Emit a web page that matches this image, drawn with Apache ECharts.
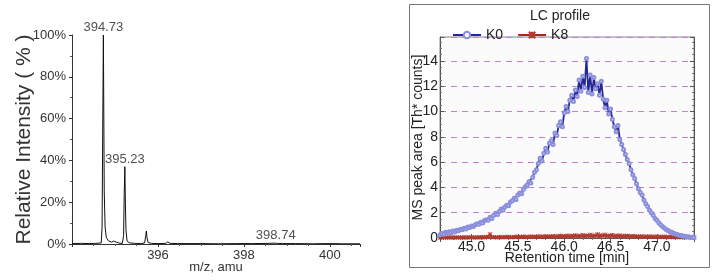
<!DOCTYPE html>
<html>
<head>
<meta charset="utf-8">
<script src="https://cdn.jsdelivr.net/npm/echarts@6.0.0/dist/echarts.min.js"></script>
<style>
  html, body { margin: 0; padding: 0; background: #fff; }
  #chart { width: 717px; height: 280px; }
</style>
</head>
<body>
<div id="chart"></div>
<script>
// mass spectrum (left panel)
const spectrumMz = [394.00, 394.20, 394.40, 394.55, 394.68, 394.70, 394.715, 394.73, 394.74, 394.75,
  394.77, 394.80, 394.85, 394.92, 394.97, 395.00, 395.04, 395.10, 395.17, 395.20,
  395.215, 395.23, 395.24, 395.255, 395.28, 395.33, 395.45, 395.60, 395.69, 395.715,
  395.73, 395.745, 395.77, 395.85, 396.00, 396.18, 396.23, 396.28, 396.45, 396.70,
  397.00, 397.40, 397.80, 398.20, 398.60, 398.70, 398.74, 398.78, 398.90, 399.20,
  399.60, 400.00, 400.30, 400.70]
const spectrumInt = [0.2, 0.3, 0.2, 0.3, 0.5, 8, 55, 100, 62, 25,
  8, 3, 1.5, 0.9, 1.4, 1.6, 0.8, 0.4, 0.3, 4,
  24, 37, 22, 7, 1.5, 0.6, 0.3, 0.2, 0.5, 4,
  6.2, 3, 0.7, 0.3, 0.2, 0.3, 1.0, 0.3, 0.2, 0.2,
  0.2, 0.1, 0.2, 0.2, 0.3, 0.4, 0.6, 0.3, 0.2, 0.2,
  0.1, 0.2, 0.1, 0.1]
const peakMz = [394.73, 395.23, 398.74]
const peakInt = [100, 37, 0.6]

// LC profile (right panel)
const retentionTime = [44.66, 44.68, 44.70, 44.72, 44.74, 44.76, 44.78, 44.80, 44.82, 44.84,
  44.86, 44.88, 44.90, 44.92, 44.94, 44.96, 44.98, 45.00, 45.02, 45.04,
  45.06, 45.08, 45.10, 45.12, 45.14, 45.16, 45.18, 45.20, 45.22, 45.24,
  45.26, 45.28, 45.30, 45.32, 45.34, 45.36, 45.38, 45.40, 45.42, 45.44,
  45.46, 45.48, 45.50, 45.52, 45.54, 45.56, 45.58, 45.60, 45.62, 45.64,
  45.66, 45.68, 45.70, 45.72, 45.74, 45.76, 45.78, 45.80, 45.82, 45.84,
  45.86, 45.88, 45.90, 45.92, 45.94, 45.96, 45.98, 46.00, 46.02, 46.04,
  46.06, 46.08, 46.10, 46.12, 46.14, 46.16, 46.18, 46.20, 46.22, 46.24,
  46.26, 46.28, 46.30, 46.32, 46.34, 46.36, 46.38, 46.40, 46.42, 46.44,
  46.46, 46.48, 46.50, 46.52, 46.54, 46.56, 46.58, 46.60, 46.62, 46.64,
  46.66, 46.68, 46.70, 46.72, 46.74, 46.76, 46.78, 46.80, 46.82, 46.84,
  46.86, 46.88, 46.90, 46.92, 46.94, 46.96, 46.98, 47.00, 47.02, 47.04,
  47.06, 47.08, 47.10, 47.12, 47.14, 47.16, 47.18, 47.20, 47.22, 47.24,
  47.26, 47.28, 47.30, 47.32, 47.34, 47.36, 47.38, 47.40]
const k0 = [0.25, 0.35, 0.30, 0.45, 0.40, 0.50, 0.42, 0.55, 0.48, 0.62,
  0.58, 0.70, 0.66, 0.78, 0.72, 0.88, 0.84, 0.95, 0.90, 1.05,
  1.12, 1.08, 1.25, 1.18, 1.38, 1.45, 1.40, 1.65, 1.55, 1.80,
  1.95, 1.85, 2.10, 2.30, 2.20, 2.45, 2.60, 2.55, 2.85, 2.95,
  3.15, 3.05, 3.40, 3.55, 3.50, 3.85, 4.05, 4.20, 4.45, 4.35,
  4.80, 5.20, 5.40, 5.90, 6.30, 6.10, 6.70, 7.10, 6.80, 7.50,
  7.70, 7.40, 8.30, 8.10, 8.90, 9.20, 8.80, 9.90, 10.40, 10.00,
  10.90, 11.30, 10.80, 11.70, 11.20, 12.50, 11.60, 12.80, 11.90, 14.20,
  11.50, 12.90, 11.40, 12.70, 11.80, 12.20, 11.30, 12.40, 11.00, 10.30,
  10.90, 9.80, 10.20, 9.40, 8.80, 8.40, 8.90, 7.80, 7.40, 7.00,
  6.60, 6.20, 5.90, 5.40, 5.00, 4.70, 4.30, 3.90, 3.60, 3.40,
  3.00, 2.70, 2.50, 2.20, 2.00, 1.80, 1.55, 1.40, 1.20, 1.05,
  0.90, 0.80, 0.68, 0.60, 0.50, 0.45, 0.38, 0.32, 0.28, 0.22,
  0.20, 0.15, 0.14, 0.10, 0.09, 0.06, 0.05, 0.04]
const k8 = [0.02, 0.05, 0.03, 0.04, 0.02, 0.06, 0.03, 0.05, 0.04, 0.03,
  0.05, 0.02, 0.04, 0.06, 0.03, 0.05, 0.04, 0.07, 0.03, 0.05,
  0.04, 0.06, 0.05, 0.08, 0.04, 0.10, 0.06, 0.30, 0.08, 0.05,
  0.07, 0.04, 0.09, 0.06, 0.05, 0.08, 0.06, 0.10, 0.05, 0.07,
  0.09, 0.06, 0.11, 0.07, 0.08, 0.12, 0.06, 0.10, 0.08, 0.13,
  0.07, 0.11, 0.09, 0.14, 0.08, 0.12, 0.10, 0.15, 0.09, 0.13,
  0.11, 0.16, 0.10, 0.14, 0.12, 0.18, 0.11, 0.15, 0.13, 0.20,
  0.12, 0.17, 0.14, 0.22, 0.13, 0.19, 0.15, 0.24, 0.14, 0.20,
  0.16, 0.26, 0.15, 0.21, 0.17, 0.30, 0.14, 0.22, 0.18, 0.27,
  0.15, 0.20, 0.16, 0.24, 0.13, 0.19, 0.15, 0.21, 0.12, 0.17,
  0.14, 0.18, 0.11, 0.15, 0.12, 0.16, 0.10, 0.13, 0.11, 0.14,
  0.09, 0.12, 0.10, 0.13, 0.08, 0.11, 0.09, 0.12, 0.07, 0.10,
  0.08, 0.11, 0.06, 0.09, 0.07, 0.10, 0.05, 0.08, 0.06, 0.09,
  0.05, 0.07, 0.04, 0.06, 0.05, 0.07, 0.04, 0.05]

const FONT = 'Liberation Sans'
const zip = (xs, ys) => xs.map((x, i) => [x, ys[i]])

const chart = echarts.init(document.getElementById('chart'))

const tickStyle = () => ({ show: true, inside: true, length: 4, lineStyle: { color: '#555' } })
const minorStyle = (n) => ({ show: true, splitNumber: n, length: 2, lineStyle: { color: '#777' } })

const option = {
  animation: false,
  textStyle: { fontFamily: FONT },
  graphic: [
    {
      type: 'rect',
      z: -10,
      silent: true,
      shape: { x: 409.5, y: 4.5, width: 300, height: 263 },
      style: { fill: 'none', stroke: '#777', lineWidth: 1 },
    },
    {
      type: 'text',
      x: 560,
      y: 16,
      style: {
        text: 'LC profile',
        font: '14px "Liberation Sans"',
        fill: '#222',
        align: 'center',
        verticalAlign: 'middle',
      },
    },
  ],
  legend: {
    left: 447,
    top: 23,
    itemGap: 14,
    itemWidth: 28,
    itemHeight: 8,
    textStyle: { fontSize: 14, color: '#222', fontFamily: FONT },
    data: ['K0', 'K8'],
  },
  grid: [
    { left: 72, top: 35, width: 288, height: 209 },
    {
      left: 440,
      top: 37,
      width: 254,
      height: 201,
      show: true,
      backgroundColor: '#fbfbfc',
      borderColor: '#888',
      borderWidth: 1,
    },
  ],
  xAxis: [
    {
      gridIndex: 0,
      type: 'value',
      min: 394,
      max: 400.7,
      interval: 2,
      name: 'm/z, amu',
      nameLocation: 'middle',
      nameGap: 17,
      nameMoveOverlap: false,
      nameTextStyle: { fontSize: 13, color: '#333' },
      axisLine: { onZero: false, lineStyle: { color: '#333' } },
      axisTick: { length: 3, lineStyle: { color: '#333' } },
      minorTick: { show: true, splitNumber: 4, length: 2, lineStyle: { color: '#555' } },
      axisLabel: { fontSize: 13, color: '#333', margin: 5, showMinLabel: false, showMaxLabel: false },
      splitLine: { show: false },
    },
    {
      gridIndex: 1,
      type: 'value',
      min: 44.66,
      max: 47.4,
      splitNumber: 5,
      name: 'Retention time [min]',
      nameLocation: 'middle',
      nameGap: 13,
      nameMoveOverlap: false,
      nameTextStyle: { fontSize: 14, color: '#222' },
      axisLine: { onZero: false, lineStyle: { color: '#555' } },
      axisTick: tickStyle(),
      minorTick: minorStyle(5),
      axisLabel: {
        fontSize: 14,
        color: '#222',
        margin: 2,
        showMinLabel: false,
        showMaxLabel: false,
        formatter: (v) => v.toFixed(1),
      },
      splitLine: { show: false },
    },
    {
      gridIndex: 1,
      type: 'value',
      position: 'top',
      min: 44.66,
      max: 47.4,
      splitNumber: 5,
      axisLine: { lineStyle: { color: '#555' } },
      axisTick: tickStyle(),
      minorTick: minorStyle(5),
      axisLabel: { show: false },
      splitLine: { show: false },
    },
  ],
  yAxis: [
    {
      gridIndex: 0,
      type: 'value',
      min: 0,
      max: 100,
      interval: 20,
      name: 'Relative Intensity ( % )',
      nameLocation: 'middle',
      nameGap: 37,
      nameMoveOverlap: false,
      nameTextStyle: { fontSize: 21, color: '#333' },
      axisLine: { show: true, lineStyle: { color: '#333' } },
      axisTick: { show: true, length: 3, lineStyle: { color: '#333' } },
      minorTick: { show: true, splitNumber: 2, length: 2, lineStyle: { color: '#555' } },
      axisLabel: { fontSize: 13, color: '#333', margin: 6, formatter: '{value}%' },
      splitLine: { show: false },
    },
    {
      gridIndex: 1,
      type: 'value',
      min: 0,
      max: 15.9,
      interval: 2,
      name: 'MS peak area [Th* counts]',
      nameLocation: 'middle',
      nameGap: 15,
      nameMoveOverlap: false,
      nameTextStyle: { fontSize: 14, color: '#222' },
      axisLine: { show: true, lineStyle: { color: '#555' } },
      axisTick: tickStyle(),
      minorTick: minorStyle(4),
      axisLabel: { fontSize: 14, color: '#222', margin: 2, showMaxLabel: false },
      splitLine: { show: true, lineStyle: { type: [6, 5], color: '#c080dc', width: 1 } },
    },
    {
      gridIndex: 1,
      type: 'value',
      position: 'right',
      min: 0,
      max: 15.9,
      interval: 2,
      axisLine: { show: true, lineStyle: { color: '#555' } },
      axisTick: tickStyle(),
      minorTick: minorStyle(4),
      axisLabel: { show: false },
      splitLine: { show: false },
    },
  ],
  series: [
    {
      name: 'spectrum',
      type: 'line',
      xAxisIndex: 0,
      yAxisIndex: 0,
      data: zip(spectrumMz, spectrumInt),
      showSymbol: false,
      lineStyle: { color: '#111', width: 1 },
    },
    {
      name: 'peaks',
      type: 'scatter',
      xAxisIndex: 0,
      yAxisIndex: 0,
      symbolSize: 0,
      data: zip(peakMz, peakInt),
      label: {
        show: true,
        position: 'top',
        distance: 1,
        fontSize: 13,
        color: '#222',
        formatter: (p) => p.value[0].toFixed(2),
      },
    },
    {
      name: 'K8',
      type: 'line',
      xAxisIndex: 1,
      yAxisIndex: 1,
      data: zip(retentionTime, k8),
      symbol: 'path://M0,0L10,10M10,0L0,10M5,0L5,10M0,5L10,5',
      symbolSize: 4,
      itemStyle: { color: '#b03a2e', borderColor: '#b03a2e', borderWidth: 1 },
      lineStyle: { color: '#a0281e', width: 1.5 },
    },
    {
      name: 'K0',
      type: 'line',
      xAxisIndex: 1,
      yAxisIndex: 1,
      data: zip(retentionTime, k0),
      symbol: 'emptyCircle',
      symbolSize: 3,
      itemStyle: { color: '#8a8edc', borderColor: '#8a8edc', borderWidth: 1 },
      lineStyle: { color: '#232893', width: 1.8 },
    },
  ],
}

chart.setOption(option)
</script>
</body>
</html>
